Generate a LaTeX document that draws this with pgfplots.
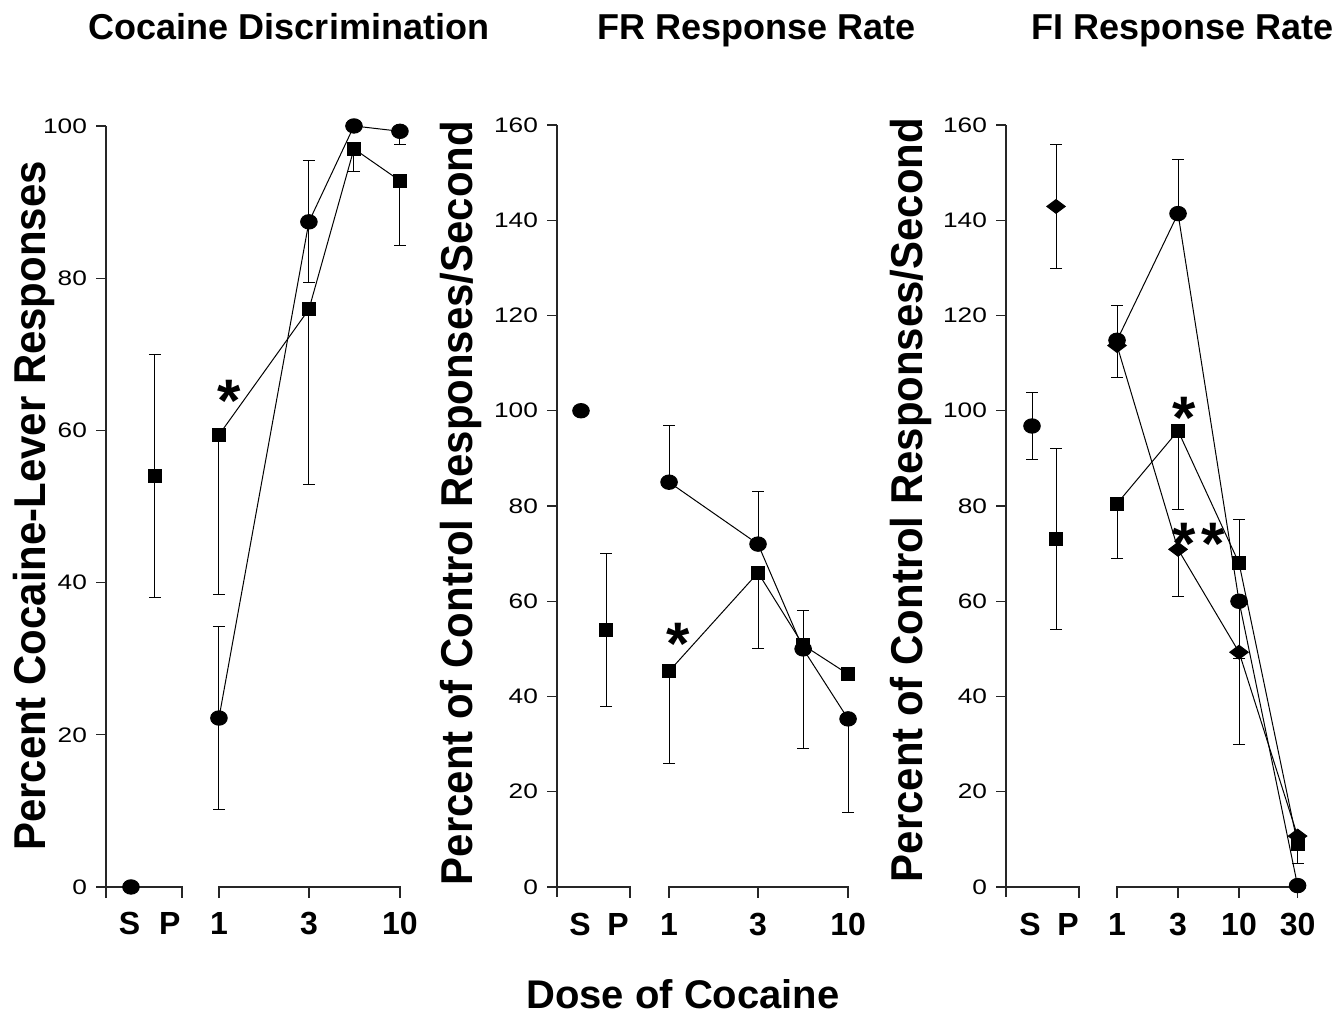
\documentclass[border=0pt]{standalone}
\usepackage{pgfplots}
\pgfplotsset{compat=1.18}
\usepackage{fontspec}
\setmainfont{Liberation Sans}
\newfontfamily\labfont[FakeStretch=0.94]{Liberation Sans}

\tikzset{axl/.style={line width=0.6pt, black!85},
  star/.style={font=\bfseries\fontsize{30}{30}\selectfont, inner sep=0, yshift=-6.5pt},
  xl/.style={anchor=base, inner sep=0, font=\bfseries\fontsize{16}{18}\selectfont, yshift=-24pt}}
\pgfplotsset{
 panel/.style={
  axis y line*=left, axis x line=none,
  y axis line style={line width=0.6pt, black!85},
  ytick style={line width=0.6pt, black!85},
  tick align=outside,
  major tick length=5pt,
  clip=false,
  anchor=south west,
  yticklabel={\scalebox{1.25}[1]{\fontsize{10.5}{12}\selectfont\pgfmathprintnumber[assume math mode=true]{\tick}}},
  yticklabel style={xshift=-1pt},
 },
 ln/.style={line width=0.5pt, black},
 eb/.style={/pgfplots/error bars/y dir=both, /pgfplots/error bars/y explicit,
   /pgfplots/error bars/error mark options={rotate=90, mark size=3pt, line width=0.5pt, black},
   /pgfplots/error bars/error bar style={line width=0.5pt, black}},
 circ/.style={ln, mark=*, mark size=3.6pt, mark options={xscale=1.15, solid, fill=black}},
 sq/.style={ln, mark=square*, mark size=3.3pt, mark options={solid, fill=black}},
 dia/.style={ln, mark=diamond*, mark size=4.6pt, mark options={rotate=90, solid, fill=black}},
}

\begin{document}
\begin{tikzpicture}
\useasboundingbox (0,0) rectangle (668.5pt,-508pt);

% ---------- Panel 1: Cocaine Discrimination ----------
\begin{axis}[panel, at={(53pt,-449pt)},
  x=90.5pt, y=3.805pt, xmin=-0.624, xmax=1, ymin=-1.45, ymax=100,
  ytick={0,20,40,60,80,100}]
\addplot[circ, eb] table[x=x, y=y, y error plus=ep, y error minus=em] {
x y ep em
0 22.2 12 12
0.497 87.4 8 8
0.746 100 0 0
1 99.3 0 1.7
};
\addplot[circ, only marks] table[x=x, y=y] {
x y
-0.486 0
};
\addplot[sq, eb] table[x=x, y=y, y error plus=ep, y error minus=em] {
x y ep em
0 59.4 0 21
0.497 75.9 0 23
0.746 97 0 3
1 92.8 0 8.5
};
\addplot[sq, only marks, eb] table[x=x, y=y, y error plus=ep, y error minus=em] {
x y ep em
-0.354 54 16 16
};
\draw[axl] (axis cs:-0.624,0) -- (axis cs:-0.204,0) -- (axis cs:-0.204,-1.45);
\draw[axl] (axis cs:0,-1.45) -- (axis cs:0,0) -- (axis cs:1,0) -- (axis cs:1,-1.45);
\draw[axl] (axis cs:0.497,0) -- (axis cs:0.497,-1.45);
\node[xl] at (axis cs:-0.494,0) {S};
\node[xl] at (axis cs:-0.271,0) {P};
\node[xl] at (axis cs:0,0) {1};
\node[xl] at (axis cs:0.497,0) {3};
\node[xl] at (axis cs:1,0) {10};
\node[star] at (axis cs:0.055,65.6) {*};
\end{axis}

% ---------- Panel 2: FR Response Rate ----------
\begin{axis}[panel, at={(278.5pt,-448.5pt)},
  x=89.5pt, y=2.38125pt, xmin=-0.626, xmax=1, ymin=-2.1, ymax=160,
  ytick={0,20,...,160}]
\addplot[circ, eb] table[x=x, y=y, y error plus=ep, y error minus=em] {
x y ep em
0 85 12 0
0.497 72 11 0
0.749 50 0 21
1 35.3 0 19.7
};
\addplot[circ, only marks] table[x=x, y=y] {
x y
-0.492 100
};
\addplot[sq, eb] table[x=x, y=y, y error plus=ep, y error minus=em] {
x y ep em
0 45.3 0 19.3
0.497 66 0 16
0.749 50.8 7.2 0
1 44.7 0 0
};
\addplot[sq, only marks, eb] table[x=x, y=y, y error plus=ep, y error minus=em] {
x y ep em
-0.352 54 16 16
};
\draw[axl] (axis cs:-0.626,0) -- (axis cs:-0.218,0) -- (axis cs:-0.218,-2.3);
\draw[axl] (axis cs:0,-2.3) -- (axis cs:0,0) -- (axis cs:1,0) -- (axis cs:1,-2.3);
\draw[axl] (axis cs:0.497,0) -- (axis cs:0.497,-2.3);
\node[xl] at (axis cs:-0.497,0) {S};
\node[xl] at (axis cs:-0.285,0) {P};
\node[xl] at (axis cs:0,0) {1};
\node[xl] at (axis cs:0.497,0) {3};
\node[xl] at (axis cs:1,0) {10};
\node[star] at (axis cs:0.05,53.7) {*};
\end{axis}

% ---------- Panel 3: FI Response Rate ----------
\begin{axis}[panel, at={(503pt,-448.5pt)},
  x=61pt, y=2.38125pt, xmin=-0.910, xmax=1.48, ymin=-2.1, ymax=160,
  ytick={0,20,...,160}]
\addplot[circ, eb] table[x=x, y=y, y error plus=ep, y error minus=em] {
x y ep em
0 114.8 7.4 0
0.5 141.4 11.3 0
1 60 0 12
1.48 0.3 0 0
};
\addplot[circ, only marks, eb] table[x=x, y=y, y error plus=ep, y error minus=em] {
x y ep em
-0.697 96.8 7 7
};
\addplot[sq, eb] table[x=x, y=y, y error plus=ep, y error minus=em] {
x y ep em
0 80.5 0 11.6
0.5 95.8 0 16.6
1 68 9.2 0
1.48 9 0 4
};
\addplot[sq, only marks, eb] table[x=x, y=y, y error plus=ep, y error minus=em] {
x y ep em
-0.5 73 19 19
};
\addplot[dia, eb] table[x=x, y=y, y error plus=ep, y error minus=em] {
x y ep em
0 113.7 0 6.7
0.5 70.9 0 9.8
1 49.3 0 19.3
1.48 10.7 0 0
};
\addplot[dia, only marks, eb] table[x=x, y=y, y error plus=ep, y error minus=em] {
x y ep em
-0.5 142.9 13 13
};
\draw[axl] (axis cs:-0.910,0) -- (axis cs:-0.311,0) -- (axis cs:-0.311,-2.3);
\draw[axl] (axis cs:0,-2.3) -- (axis cs:0,0) -- (axis cs:1.48,0) -- (axis cs:1.48,-2.3);
\draw[axl] (axis cs:0.5,0) -- (axis cs:0.5,-2.3);
\draw[axl] (axis cs:1,0) -- (axis cs:1,-2.3);
\node[xl] at (axis cs:-0.713,0) {S};
\node[xl] at (axis cs:-0.402,0) {P};
\node[xl] at (axis cs:0,0) {1};
\node[xl] at (axis cs:0.5,0) {3};
\node[xl] at (axis cs:1,0) {10};
\node[xl] at (axis cs:1.48,0) {30};
\node[star] at (axis cs:0.549,101.2) {*};
\node[star] at (axis cs:0.549,74.7) {*};
\node[star] at (axis cs:0.787,74.7) {*};
\end{axis}

% ---------- titles and labels ----------
\node[anchor=base, inner sep=0, font=\bfseries\fontsize{18}{18}\selectfont] at (144.5pt,-20pt) {Cocaine Discrimination};
\node[anchor=base, inner sep=0, font=\bfseries\fontsize{18}{18}\selectfont] at (378.25pt,-20pt) {FR Response Rate};
\node[anchor=base, inner sep=0, font=\bfseries\fontsize{18}{18}\selectfont] at (591.25pt,-20pt) {FI Response Rate};
\node[rotate=90, anchor=base, inner sep=0, font=\labfont\bfseries\fontsize{22.3}{22}\selectfont] at (22.5pt,-253pt) {Percent Cocaine-Lever Responses};
\node[rotate=90, anchor=base, inner sep=0, font=\labfont\bfseries\fontsize{22.3}{22}\selectfont] at (236pt,-251.5pt) {Percent of Control Responses/Second};
\node[rotate=90, anchor=base, inner sep=0, font=\labfont\bfseries\fontsize{22.3}{22}\selectfont] at (461pt,-250pt) {Percent of Control Responses/Second};
\node[anchor=base, inner sep=0, font=\bfseries\fontsize{20}{20}\selectfont] at (341.5pt,-504pt) {Dose of Cocaine};
\end{tikzpicture}
\end{document}
